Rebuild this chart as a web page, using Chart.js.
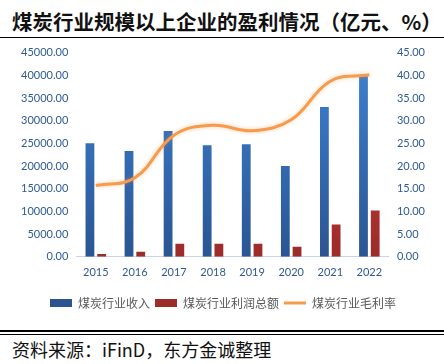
<!DOCTYPE html>
<html>
<head>
<meta charset="utf-8">
<script src="https://cdn.jsdelivr.net/npm/chart.js@4.4.1/dist/chart.umd.min.js"></script>
<style>
  html, body { margin: 0; padding: 0; background: #fff; }
  body { width: 444px; height: 364px; position: relative; overflow: hidden; }
  .titulo { position: absolute; left: 12px; top: 6px; font: bold 20.5px "Noto Sans CJK SC", sans-serif; color: #111; white-space: nowrap; }
  .linea-titulo { position: absolute; left: 0; top: 37px; width: 444px; height: 1px; background: #000; }
  .contenedor-grafica { position: absolute; left: 0; top: 38px; width: 444px; height: 292px; }
  .linea-doble1 { position: absolute; left: 0; top: 330px; width: 444px; height: 2px; background: #000; }
  .linea-doble2 { position: absolute; left: 0; top: 334px; width: 444px; height: 1px; background: #000; }
  .fuente { position: absolute; left: 12px; top: 336px; font: 18px "Noto Sans CJK SC", sans-serif; color: #111; white-space: nowrap; }
</style>
</head>
<body>
<div class="titulo">煤炭行业规模以上企业的盈利情况（亿元、%）</div>
<div class="linea-titulo"></div>
<div class="contenedor-grafica"><canvas id="grafica" width="444" height="292"></canvas></div>
<div class="linea-doble1"></div>
<div class="linea-doble2"></div>
<div class="fuente">资料来源：iFinD，东方金诚整理</div>
<script>
// Datos
var anios = ['2015', '2016', '2017', '2018', '2019', '2020', '2021', '2022'];
var ingresos = [25000, 23300, 27700, 24600, 24800, 20000, 33000, 40000];
var beneficios = [600, 1100, 2900, 2900, 2900, 2200, 7100, 10200];
var margenBruto = [15.7, 17.4, 26.8, 29.0, 27.8, 30.2, 38.7, 40.1];

var colorTexto = '#2F5A96';

function degradado(ctx, arriba, abajo) {
    var chart = ctx.chart;
    var area = chart.chartArea;
    if (!area) return arriba;
    var g = chart.ctx.createLinearGradient(0, area.top, 0, area.bottom);
    g.addColorStop(0, arriba);
    g.addColorStop(1, abajo);
    return g;
}

// sombra suave para la linea
var sombraLinea = {
    id: 'sombraLinea',
    beforeDatasetDraw: function (chart, args) {
        if (args.meta.type === 'line') {
            chart.ctx.save();
            chart.ctx.shadowColor = 'rgba(247,150,70,0.45)';
            chart.ctx.shadowBlur = 4;
        }
    },
    afterDatasetDraw: function (chart, args) {
        if (args.meta.type === 'line') chart.ctx.restore();
    }
};

var ctx = document.getElementById('grafica').getContext('2d');
var miGrafico = new Chart(ctx, {
    type: 'bar',
    data: {
        labels: anios,
        datasets: [{
            type: 'line',
            label: '煤炭行业毛利率',
            data: margenBruto,
            yAxisID: 'y1',
            borderColor: '#F79A4B',
            backgroundColor: '#F79A4B',
            borderWidth: 3,
            tension: 0.4,
            pointRadius: 0,
            pointStyle: 'line',
            order: 0
        }, {
            label: '煤炭行业收入',
            data: ingresos,
            yAxisID: 'y',
            backgroundColor: function (c) { return degradado(c, '#3E82D4', '#2A5592'); },
            pointStyle: 'rect',
            categoryPercentage: 0.6,
            barPercentage: 0.75,
            order: 1
        }, {
            label: '煤炭行业利润总额',
            data: beneficios,
            yAxisID: 'y',
            backgroundColor: function (c) { return degradado(c, '#D8443F', '#9C2B29'); },
            pointStyle: 'rect',
            categoryPercentage: 0.6,
            barPercentage: 0.75,
            order: 2
        }]
    },
    options: {
        responsive: false,
        animation: false,
        layout: { padding: { left: 13, right: 11, top: 14, bottom: 11 } },
        plugins: {
            tooltip: { enabled: false },
            legend: {
                position: 'bottom',
                labels: {
                    usePointStyle: true,
                    pointStyleWidth: 22,
                    boxHeight: 8,
                    padding: 5,
                    color: '#595959',
                    font: { family: '"Noto Sans CJK SC", sans-serif', size: 12 },
                    sort: function (a, b) { return [1, 2, 0].indexOf(a.datasetIndex) - [1, 2, 0].indexOf(b.datasetIndex); }
                }
            }
        },
        scales: {
            x: {
                grid: { display: false, drawTicks: false },
                border: { display: true, color: '#C8D5E6', width: 1 },
                ticks: { color: colorTexto, padding: 9, font: { family: 'Lato', size: 11 } },
                afterFit: function (scale) { scale.height += 4; }
            },
            y: {
                position: 'left',
                min: 0, max: 45000,
                grid: { display: false, drawTicks: false },
                border: { display: false },
                ticks: {
                    stepSize: 5000, padding: 8, color: colorTexto,
                    font: { family: 'Lato', size: 11 },
                    callback: function (v) { return v.toFixed(2); }
                }
            },
            y1: {
                position: 'right',
                min: 0, max: 45,
                grid: { display: false, drawTicks: false },
                border: { display: false },
                ticks: {
                    stepSize: 5, padding: 8, color: colorTexto,
                    font: { family: 'Lato', size: 11 },
                    callback: function (v) { return v.toFixed(2); }
                }
            }
        }
    },
    plugins: [sombraLinea]
});
</script>
</body>
</html>
